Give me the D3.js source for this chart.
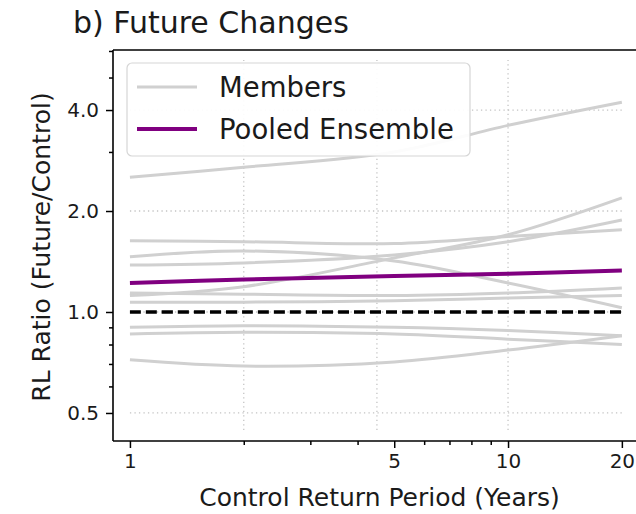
<!DOCTYPE html>
<html>
<head>
<meta charset="utf-8">
<script src="https://cdn.jsdelivr.net/npm/d3@7"></script>
<style>
  html, body { margin: 0; padding: 0; background: #fff; }
  svg { display: block; }
  text { font-family: "DejaVu Sans", sans-serif; fill: #1a1a1a; }
</style>
</head>
<body>
<div id="chart"></div>
<script>
// ---- data ----
const returnPeriods = [1, 2, 5, 10, 20];
const members = [
  [2.52, 2.70, 3.00, 3.60, 4.22],
  [1.63, 1.62, 1.60, 1.68, 1.76],
  [1.12, 1.19, 1.45, 1.70, 2.19],
  [1.46, 1.52, 1.42, 1.22, 1.03],
  [1.38, 1.40, 1.48, 1.62, 1.88],
  [1.14, 1.13, 1.12, 1.14, 1.18],
  [1.07, 1.07, 1.08, 1.10, 1.12],
  [0.90, 0.91, 0.90, 0.88, 0.85],
  [0.86, 0.87, 0.86, 0.83, 0.80],
  [0.72, 0.69, 0.71, 0.77, 0.85]
];
const pooled = [1.22, 1.25, 1.28, 1.30, 1.33];
const refLine = 1.0;
const xTickValues = [1, 5, 10, 20];
const xMinorTicks = [2, 3, 4, 6, 7, 8, 9];
const yTickValues = [0.5, 1.0, 2.0, 4.0];
const yMinorTicks = [0.6, 0.7, 0.8, 0.9, 3, 5, 6];
const xGrid = [2, 4.5, 10];
const yGrid = [0.5, 1.0, 2.0, 4.0];
const title = "b) Future Changes";
const xLabel = "Control Return Period (Years)";
const yLabel = "RL Ratio (Future/Control)";
const legendLabels = ["Members", "Pooled Ensemble"];

// ---- layout ----
const W = 636, H = 514;
const mLeft = 113, mRight = 639, mTop = 50, mBottom = 441;

const svg = d3.select("#chart").append("svg").attr("width", W).attr("height", H);

const x = d3.scaleLog().domain([0.902, 22.2]).range([mLeft, mRight]);
const y = d3.scaleLog().domain([0.4125, 6.04]).range([mBottom, mTop]);

const plot = svg.append("g");

// grid
const gridColor = "#c4c4c4";
plot.selectAll(".hgrid").data(yGrid).join("line")
  .attr("x1", x(1)).attr("x2", x(20))
  .attr("y1", d => y(d)).attr("y2", d => y(d))
  .attr("stroke", gridColor).attr("stroke-width", 1.3).attr("stroke-dasharray", "1.3,3.2");
plot.selectAll(".vgrid").data(xGrid).join("line")
  .attr("x1", d => x(d)).attr("x2", d => x(d))
  .attr("y1", y(0.445)).attr("y2", y(5.64))
  .attr("stroke", gridColor).attr("stroke-width", 1.3).attr("stroke-dasharray", "1.3,3.2");

const line = d3.line()
  .x((d, i) => x(returnPeriods[i]))
  .y(d => y(d))
  .curve(d3.curveCatmullRom.alpha(0.5));

plot.selectAll(".member").data(members).join("path")
  .attr("d", line).attr("fill", "none")
  .attr("stroke", "#d0d0d0").attr("stroke-width", 3);

plot.append("path").datum(returnPeriods.map(() => refLine))
  .attr("d", line).attr("fill", "none")
  .attr("stroke", "#000").attr("stroke-width", 3.5).attr("stroke-dasharray", "11,5");

plot.append("path").datum(pooled)
  .attr("d", line).attr("fill", "none")
  .attr("stroke", "#800080").attr("stroke-width", 4);

// spines
svg.append("line").attr("x1", mLeft).attr("x2", mLeft).attr("y1", mTop).attr("y2", mBottom)
  .attr("stroke", "#000").attr("stroke-width", 1.6);
svg.append("line").attr("x1", mLeft).attr("x2", mRight).attr("y1", mBottom).attr("y2", mBottom)
  .attr("stroke", "#000").attr("stroke-width", 1.6);
svg.append("line").attr("x1", mLeft).attr("x2", mRight).attr("y1", mTop).attr("y2", mTop)
  .attr("stroke", "#000").attr("stroke-width", 1.6);

// axes
const xAxis = svg.append("g").attr("transform", `translate(0,${mBottom})`)
  .call(d3.axisBottom(x).tickValues(xTickValues).tickFormat(d3.format("d")).tickSize(7).tickPadding(6));
const xAxisMinor = svg.append("g").attr("transform", `translate(0,${mBottom})`)
  .call(d3.axisBottom(x).tickValues(xMinorTicks).tickFormat("").tickSize(4));
const yAxis = svg.append("g").attr("transform", `translate(${mLeft},0)`)
  .call(d3.axisLeft(y).tickValues(yTickValues).tickFormat(d3.format(".1f")).tickSize(7).tickPadding(7));
const yAxisMinor = svg.append("g").attr("transform", `translate(${mLeft},0)`)
  .call(d3.axisLeft(y).tickValues(yMinorTicks).tickFormat("").tickSize(4));
[xAxis, xAxisMinor, yAxis, yAxisMinor].forEach(g => {
  g.select(".domain").remove();
  g.selectAll(".tick line").attr("stroke", "#000").attr("stroke-width", 1.5);
  g.selectAll(".tick text").attr("font-size", 20).attr("fill", "#1a1a1a")
    .attr("font-family", "DejaVu Sans, sans-serif");
});

// labels
svg.append("text").attr("x", 73).attr("y", 33).attr("font-size", 30).text(title);
svg.append("text").attr("x", (130 + 623) / 2 + 3).attr("y", 506).attr("text-anchor", "middle")
  .attr("font-size", 25).text(xLabel);
svg.append("text").attr("transform", `translate(50,${(87 + 407) / 2}) rotate(-90)`)
  .attr("text-anchor", "middle").attr("font-size", 25).text(yLabel);

// legend
const lg = svg.append("g");
lg.append("rect").attr("x", 127).attr("y", 63).attr("width", 343).attr("height", 93)
  .attr("rx", 5).attr("fill", "#fff").attr("fill-opacity", 0.92)
  .attr("stroke", "#d6d6d6").attr("stroke-width", 1.2);
const legendColors = ["#d0d0d0", "#800080"];
const legendWidths = [3, 4];
legendLabels.forEach((lab, i) => {
  const cy = 87 + i * 42;
  lg.append("line").attr("x1", 137).attr("x2", 197).attr("y1", cy).attr("y2", cy)
    .attr("stroke", legendColors[i]).attr("stroke-width", legendWidths[i]);
  lg.append("text").attr("x", 219).attr("y", cy + 10).attr("font-size", 27.5).text(lab);
});
</script>
</body>
</html>
